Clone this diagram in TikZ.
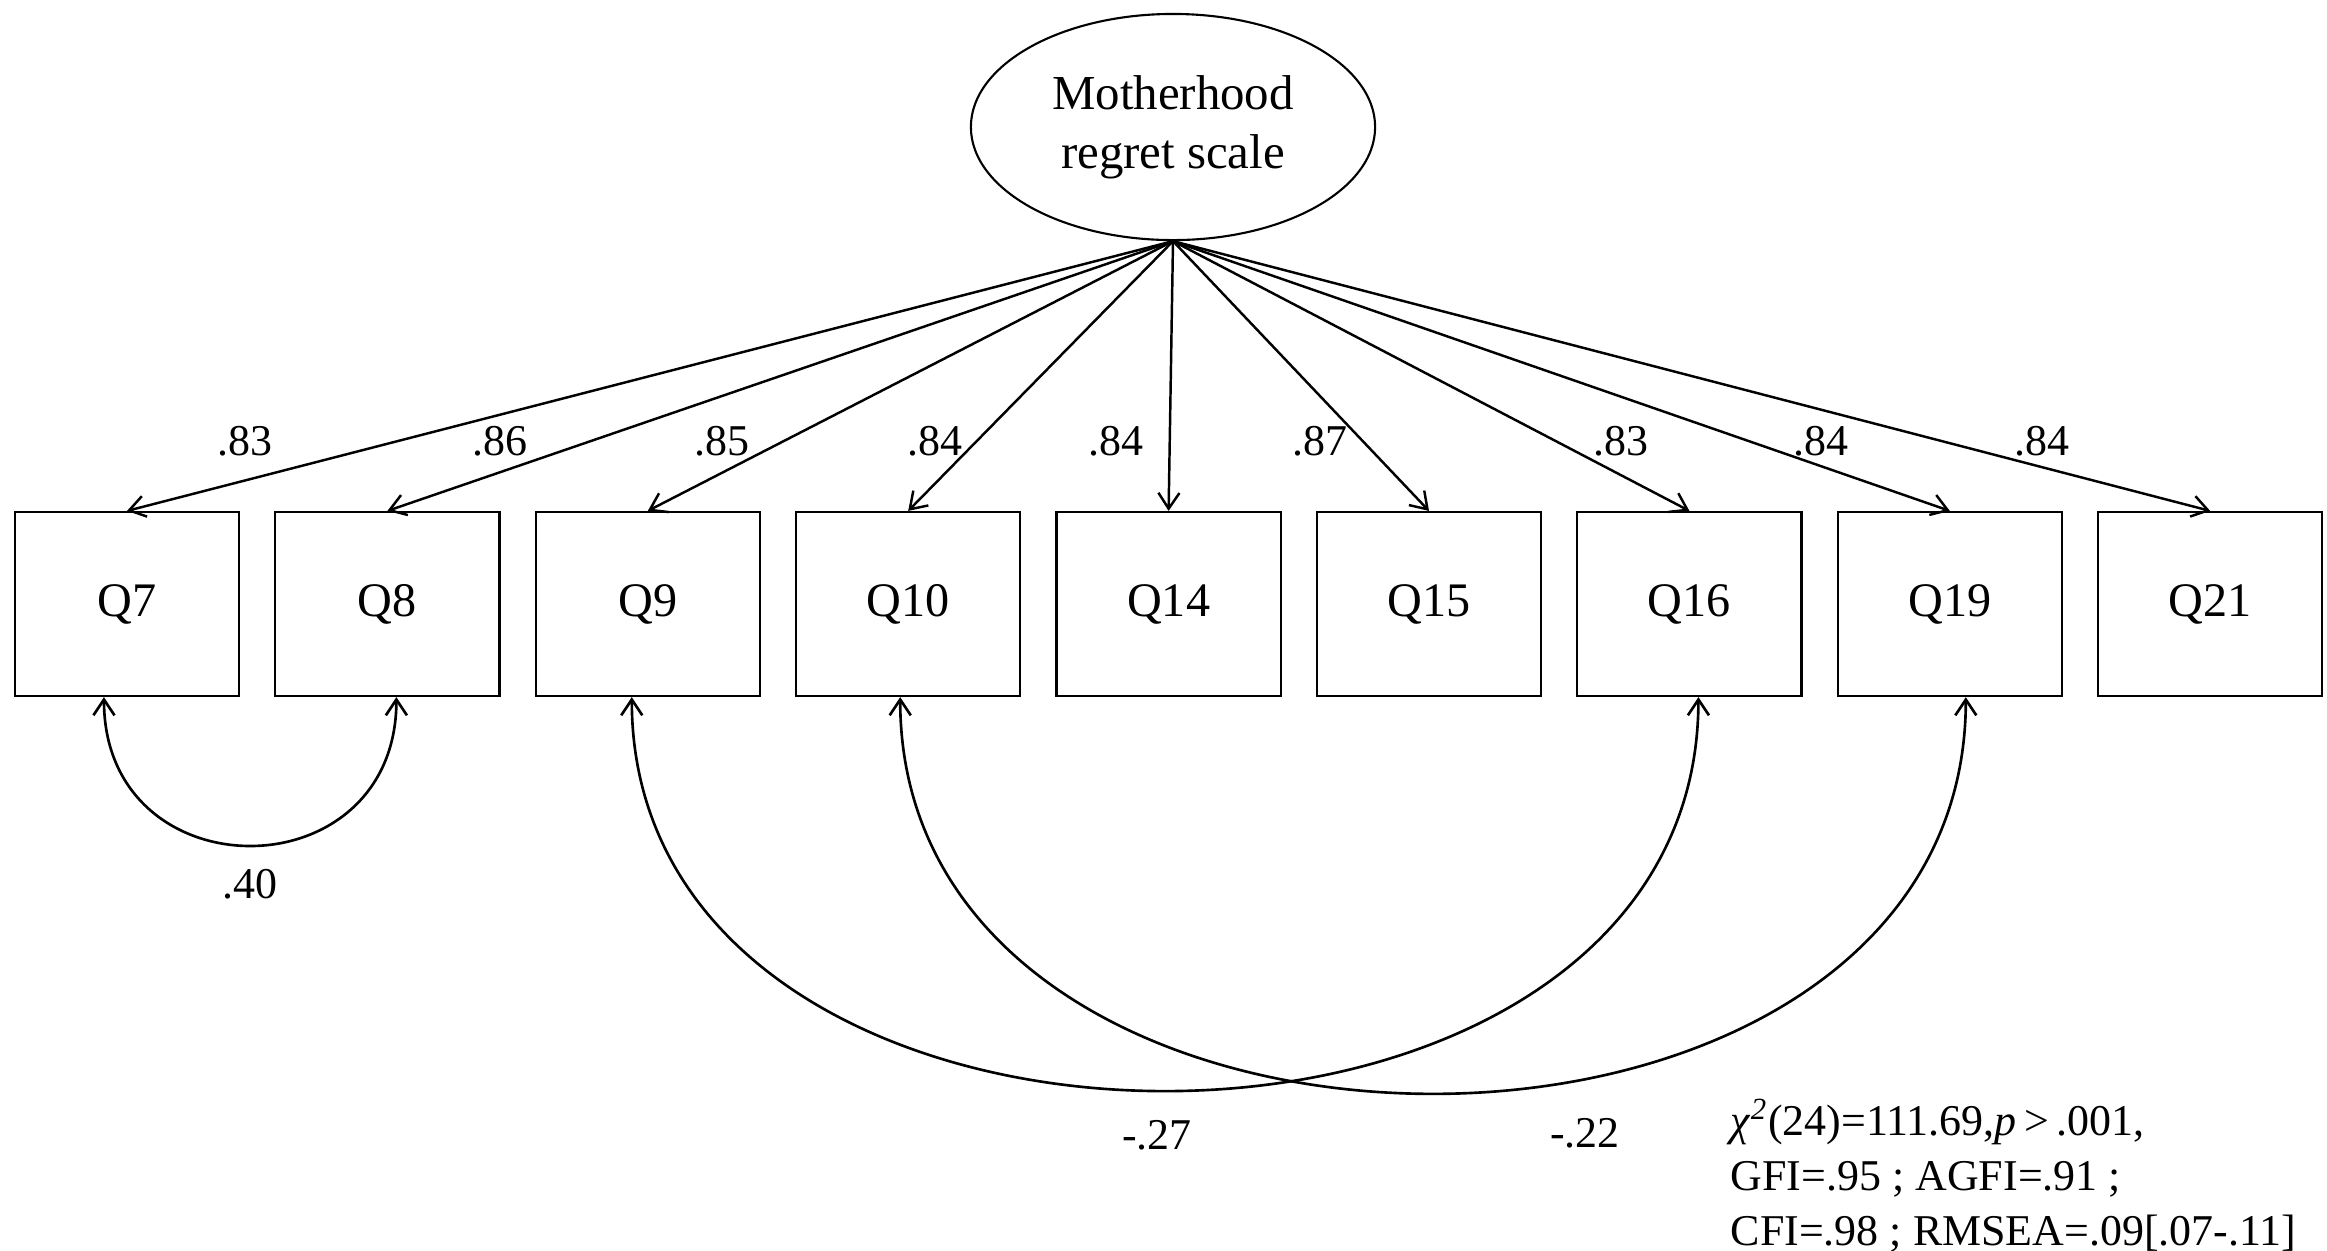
\documentclass[tikz,border=0pt]{standalone}
\usepackage{fontspec}
\setmainfont{Liberation Serif}
\usetikzlibrary{shapes.geometric,arrows.meta}

\begin{document}
\begin{tikzpicture}[x=0.01cm, y=-0.01cm, >={Straight Barb[length=4.5pt,width=6pt]},
  latent/.style={draw, ellipse, line width=0.6pt, minimum width=4.04cm, minimum height=2.26cm, align=center, font=\fontsize{13.9}{16.8}\selectfont},
  item/.style={draw, rectangle, line width=0.6pt, minimum width=2.24cm, minimum height=1.84cm, font=\fontsize{13.7}{16}\selectfont},
  coef/.style={font=\fontsize{12.5}{15}\selectfont}]
  \useasboundingbox (0, 0) rectangle (2327, 1250);

  \node[latent] (regret) at (1173, 127) {Motherhood\\regret scale};

  \foreach \q [count=\i from 0] in {7, 8, 9, 10, 14, 15, 16, 19, 21}
    \node[item] (Q\q) at ({127 + 260.4*\i}, 604) {Q\q};

  \foreach \q/\w/\lx in {7/.83/245, 8/.86/500, 9/.85/722, 10/.84/935, 14/.84/1116, 15/.87/1320, 16/.83/1621, 19/.84/1821, 21/.84/2042} {
    \draw[->, line width=0.7pt] (regret.south) -- (Q\q.north);
    \node[coef] (w\q) at (\lx, 441) {\w};
  }

  \draw[<->, line width=0.75pt] ([xshift=-0.23cm]Q7.south) to[out=-90, in=-90, looseness=1.73] ([xshift=0.09cm]Q8.south);
  \node[coef] (c78) at (250, 884) {.40};
  \draw[<->, line width=0.75pt] ([xshift=-0.16cm]Q9.south) to[out=-90, in=-90, looseness=1.26] ([xshift=0.09cm]Q16.south);
  \node[coef] (c916) at (1157, 1135) {-.27};
  \draw[<->, line width=0.75pt] ([xshift=-0.08cm]Q10.south) to[out=-90, in=-90, looseness=1.27] ([xshift=0.16cm]Q19.south);
  \node[coef] (c1019) at (1585, 1133) {-.22};

  \node[coef, inner sep=0pt, anchor=base west] (fit1) at (1730, 1135) {\textit{χ}\textsuperscript{\textit{2}}(24)=111.69,\textit{p}\,>\,.001,};
  \node[coef, inner sep=0pt, anchor=base west] (fit2) at (1730, 1190) {GFI=.95 ; AGFI=.91 ;};
  \node[coef, inner sep=0pt, anchor=base west] (fit3) at (1730, 1245) {CFI=.98 ; RMSEA=.09[.07-.11]};
\end{tikzpicture}
\end{document}
